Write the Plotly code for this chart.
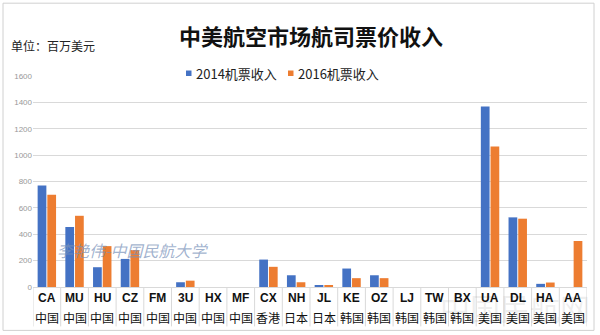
import plotly.graph_objects as go

# Airline codes, home markets and ticket revenue (million USD)
airlines = ["CA", "MU", "HU", "CZ", "FM", "3U", "HX", "MF", "CX", "NH",
            "JL", "KE", "OZ", "LJ", "TW", "BX", "UA", "DL", "HA", "AA"]
countries = ["中国", "中国", "中国", "中国", "中国", "中国", "中国", "中国", "香港", "日本",
             "日本", "韩国", "韩国", "韩国", "韩国", "韩国", "美国", "美国", "美国", "美国"]
rev_2014 = [770, 455, 150, 213, 0, 36, 0, 0, 208, 89,
            14, 140, 89, 0, 0, 0, 1368, 528, 24, 0]
rev_2016 = [700, 540, 310, 280, 0, 48, 0, 0, 153, 36,
            14, 67, 67, 0, 0, 0, 1065, 518, 34, 349]
y_ticks = [0, 200, 400, 600, 800, 1000, 1200, 1400, 1600]
series_names = ["2014机票收入", "2016机票收入"]
series_colors = ["#4472C4", "#ED7D31"]

CJK = "Noto Sans CJK SC"
n = len(airlines)
idx = list(range(n))

# plot area in pixels: x 33..587, y 76 (top) .. 287.5 (zero line)
PX0, PW = 33, 554
PY0, PH = 287.5, 211.5


def px(x):
    return (x - PX0) / PW


def py(y):
    return (PY0 - y) / PH


fig = go.Figure()
for vals, name, col in zip([rev_2014, rev_2016], series_names, series_colors):
    fig.add_trace(go.Bar(x=idx, y=vals, name=name, showlegend=False,
                         marker=dict(color=col, line=dict(width=0))))

shapes = []
# outer chart frame
shapes.append(dict(type="rect", xref="paper", yref="paper",
                   x0=px(3), x1=px(594), y0=py(331), y1=py(3),
                   line=dict(color="#d0d0d0", width=1), fillcolor="rgba(0,0,0,0)",
                   layer="below"))
# dividers between category labels
for b in [i - 0.5 for i in range(n + 1)]:
    shapes.append(dict(type="line", xref="x", yref="paper",
                       x0=b, x1=b, y0=0, y1=py(327),
                       line=dict(color="#d9d9d9", width=1)))

# legend: small coloured squares followed by series names
legend_sq = [186, 288]
for col, sx in zip(series_colors, legend_sq):
    shapes.append(dict(type="rect", xref="paper", yref="paper",
                       x0=px(sx), x1=px(sx + 5.5), y0=py(76), y1=py(70.5),
                       line=dict(width=0), fillcolor=col))

annotations = [
    dict(text="<b>中美航空市场航司票价收入</b>", xref="paper", yref="paper",
         x=px(311), y=py(35), xanchor="center", yanchor="middle",
         showarrow=False, font=dict(family=CJK, size=22, color="#111111")),
    dict(text="单位：百万美元", xref="paper", yref="paper",
         x=px(9), y=py(45), xanchor="left", yanchor="middle",
         showarrow=False, font=dict(family=CJK, size=12, color="#222222")),
    dict(text="<i>李艳伟-中国民航大学</i>", xref="paper", yref="paper",
         x=px(133), y=py(250), xanchor="center", yanchor="middle",
         showarrow=False, font=dict(family=CJK, size=16, color="rgba(120,145,185,0.7)")),
    dict(text="中国民航网", xref="paper", yref="paper",
         x=px(515), y=py(308), xanchor="center", yanchor="middle",
         showarrow=False, font=dict(family=CJK, size=30, color="rgba(150,150,150,0.16)")),
]

for name, sx in zip(series_names, legend_sq):
    annotations.append(dict(
        text=name, xref="paper", yref="paper",
        x=px(sx + 8), y=py(73), xanchor="left", yanchor="middle", showarrow=False,
        font=dict(family=CJK, size=13, color="#222222")))

# two-row category labels: airline code, then home market
for i, (a, c) in enumerate(zip(airlines, countries)):
    annotations.append(dict(text=f"<b>{a}</b>", xref="x", yref="paper", x=i, y=py(299),
                            xanchor="center", yanchor="middle", showarrow=False,
                            font=dict(family="Liberation Sans", size=12, color="#111111")))
    annotations.append(dict(text=c, xref="x", yref="paper", x=i, y=py(318),
                            xanchor="center", yanchor="middle", showarrow=False,
                            font=dict(family=CJK, size=12, color="#111111")))

fig.update_layout(
    width=600, height=335,
    margin=dict(l=33, r=13, t=76, b=47.5),
    paper_bgcolor="white", plot_bgcolor="white",
    barmode="group", bargap=0.3, bargroupgap=0.1,
    font=dict(family=CJK, color="#222222"),
    showlegend=False,
    shapes=shapes,
    annotations=annotations,
    xaxis=dict(tickmode="array", tickvals=idx, showticklabels=False,
               range=[-0.5, n - 0.5], showgrid=False, zeroline=False,
               showline=True, linecolor="#d9d9d9", ticks=""),
    yaxis=dict(range=[0, 1600], tickvals=y_ticks, showgrid=True,
               gridcolor="#d9d9d9", gridwidth=1, zeroline=False,
               showline=False, ticks="",
               tickfont=dict(family="Liberation Sans", size=8, color="#999999")),
)

fig.write_html("out.html")
